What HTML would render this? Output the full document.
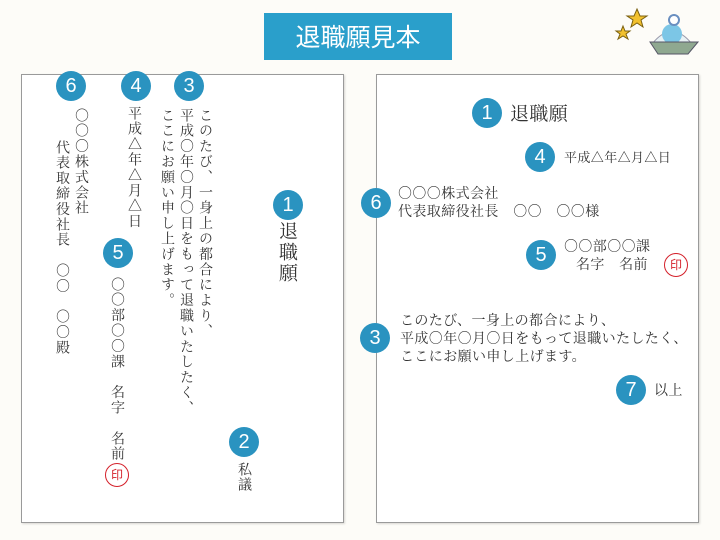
<!DOCTYPE html>
<html><head><meta charset="utf-8"><style>
body{margin:0;width:720px;height:540px;background:#fdfcf8;position:relative;overflow:hidden;font-family:"Noto Serif CJK SC","Noto Sans CJK JP",serif;color:#333}
.a{position:absolute}
.paper{position:absolute;background:#fff;border:1px solid #9a9a9a;box-shadow:1px 1px 2px rgba(0,0,0,.15)}
.c{position:absolute;width:30px;height:30px;border-radius:50%;background:#2a93c0;color:#fff;font:20px "Liberation Sans","DejaVu Sans",sans-serif;text-align:center;line-height:30px;margin:-15px 0 0 -15px}
.v{position:absolute;writing-mode:vertical-rl;font-size:14px;line-height:16px;white-space:nowrap;letter-spacing:1.4px}
.h{position:absolute;font-size:14px;line-height:18px;white-space:nowrap;letter-spacing:0.4px}
.in{position:absolute;width:22px;height:22px;border:1.5px solid #d4202a;border-radius:50%;color:#d4202a;font-size:12px;text-align:center;line-height:22px;margin:-12px 0 0 -12px;font-family:"Noto Sans CJK JP",sans-serif}
</style></head><body>
<div class="a" style="left:264px;top:13px;width:188px;height:47px;background:#2a9fcb;color:#fff;font:25px 'Noto Sans CJK JP',sans-serif;text-align:center;line-height:47px">退職願見本</div>
<svg class="a" style="left:610px;top:4px" width="100" height="70">
<polygon points="27,5 30,12 37,12 31,16 33,23 27,19 21,23 23,16 17,12 24,12" fill="#f2c12e" stroke="#7a6010"/>
<polygon points="13,22 15,27 20,27 16,30 18,35 13,32 8,35 10,30 6,27 11,27" fill="#f2c12e" stroke="#7a6010"/>
<path d="M42 40 Q62 15 82 40" fill="#e8f2f5" stroke="#99a" />
<circle cx="62" cy="30" r="10" fill="#7cc6e6"/>
<circle cx="64" cy="16" r="5" fill="#fff" stroke="#6a8fc0" stroke-width="2"/>
<path d="M40 38 L88 38 L78 50 L48 50 Z" fill="#8fa890" stroke="#556"/>
</svg>
<div class="paper" style="left:21px;top:74px;width:321px;height:447px"></div>
<div class="paper" style="left:376px;top:74px;width:321px;height:447px"></div>

<!-- left -->
<div class="c" style="left:71px;top:86px">6</div>
<div class="c" style="left:136px;top:86px">4</div>
<div class="c" style="left:189px;top:86px">3</div>
<div class="c" style="left:288px;top:205px">1</div>
<div class="c" style="left:118px;top:253px">5</div>
<div class="c" style="left:244px;top:442px">2</div>
<div class="v" style="left:74px;top:108px">○○○株式会社</div>
<div class="v" style="left:55px;top:140px">代表取締役社長　○○　○○殿</div>
<div class="v" style="left:127px;top:106px">平成△年△月△日</div>
<div class="v" style="left:198px;top:108px">このたび、一身上の都合により、</div>
<div class="v" style="left:179px;top:108px">平成○年○月○日をもって退職いたしたく、</div>
<div class="v" style="left:160px;top:108px">ここにお願い申し上げます。</div>
<div class="v" style="left:278px;top:221px;font-size:19px;line-height:20px;letter-spacing:2px">退職願</div>
<div class="v" style="left:110px;top:277px">○○部○○課　名字　名前</div>
<div class="in" style="left:117px;top:475px">印</div>
<div class="v" style="left:237px;top:462px">私議</div>

<!-- right -->
<div class="c" style="left:487px;top:113px">1</div>
<div class="h" style="left:510px;top:101px;font-size:19px;line-height:24px">退職願</div>
<div class="c" style="left:540px;top:157px">4</div>
<div class="h" style="left:564px;top:148px;font-size:13px">平成△年△月△日</div>
<div class="c" style="left:376px;top:203px">6</div>
<div class="h" style="left:398px;top:184px">○○○株式会社<br>代表取締役社長　○○　○○様</div>
<div class="c" style="left:541px;top:255px">5</div>
<div class="h" style="left:564px;top:237px">○○部○○課<br>&nbsp;&nbsp;&nbsp;名字　名前</div>
<div class="in" style="left:676px;top:265px">印</div>
<div class="c" style="left:375px;top:338px">3</div>
<div class="h" style="left:400px;top:311px">このたび、一身上の都合により、<br>平成○年○月○日をもって退職いたしたく、<br>ここにお願い申し上げます。</div>
<div class="c" style="left:631px;top:390px">7</div>
<div class="h" style="left:654px;top:381px">以上</div>
</body></html>
